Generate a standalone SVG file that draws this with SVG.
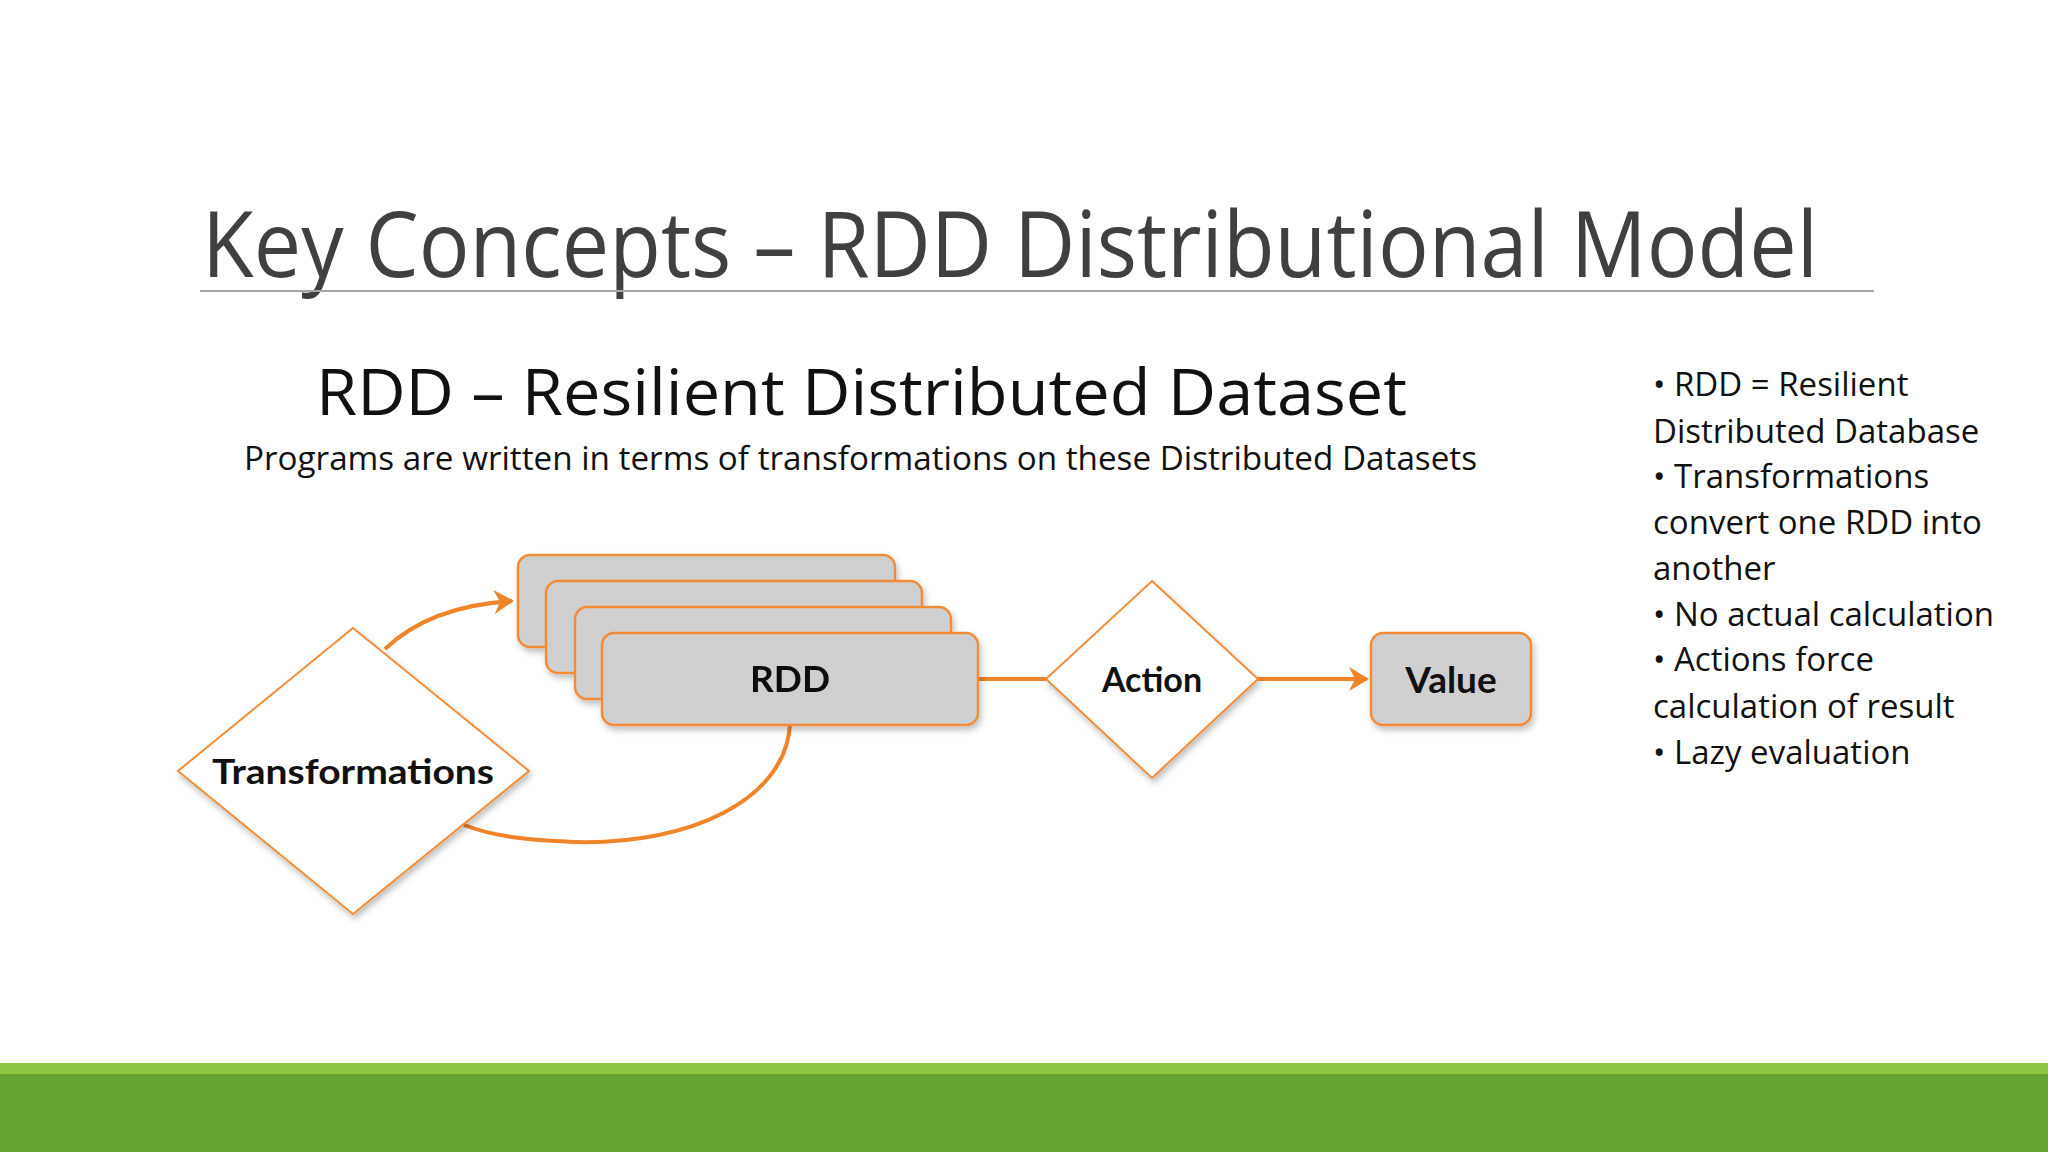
<svg xmlns="http://www.w3.org/2000/svg" width="2048" height="1152" viewBox="0 0 2048 1152">
<defs>
<style>
.t{font-family:"Open Sans","Noto Sans",sans-serif;fill:#404040}
.b{font-family:"Open Sans","Noto Sans",sans-serif;fill:#111;font-size:33px}
.n{font-family:Lato,"Noto Sans",sans-serif;font-weight:bold;fill:#111;text-anchor:middle}
.box{fill:#cfcfcf;stroke:#f28c38;stroke-width:2.5}
.dia{fill:#fff;stroke:#f28c38;stroke-width:2}
.c{fill:none;stroke:#f08428;stroke-width:4}
</style>
<marker id="ah" markerWidth="6" markerHeight="6" refX="4.5" refY="3" orient="auto" markerUnits="strokeWidth"><path d="M0,0 L5,3 L0,6 L1.5,3 Z" fill="#f08428"/></marker>
<filter id="sh" x="-10%" y="-10%" width="130%" height="140%"><feDropShadow dx="2" dy="4" stdDeviation="3" flood-color="#000" flood-opacity="0.25"/></filter>
</defs>
<rect width="2048" height="1152" fill="#fff"/>
<text class="t" x="202" y="277" font-size="92" textLength="1616" lengthAdjust="spacingAndGlyphs">Key Concepts – RDD Distributional Model</text>
<line x1="200" y1="291" x2="1874" y2="291" stroke="#a6a6a6" stroke-width="2"/>
<text class="t" x="316" y="415" font-size="64" style="fill:#111" textLength="1091" lengthAdjust="spacingAndGlyphs">RDD – Resilient Distributed Dataset</text>
<text class="t" x="244" y="470" font-size="32" style="fill:#111" textLength="1233" lengthAdjust="spacingAndGlyphs">Programs are written in terms of transformations on these Distributed Datasets</text>
<g id="bullets">
<text class="b" x="1653" y="396">• RDD = Resilient</text>
<text class="b" x="1653" y="443">Distributed Database</text>
<text class="b" x="1653" y="488">• Transformations</text>
<text class="b" x="1653" y="534">convert one RDD into</text>
<text class="b" x="1653" y="580">another</text>
<text class="b" x="1653" y="626">• No actual calculation</text>
<text class="b" x="1653" y="671">• Actions force</text>
<text class="b" x="1653" y="718">calculation of result</text>
<text class="b" x="1653" y="764">• Lazy evaluation</text>
</g>
<g id="connectors">
<path class="c" d="M385,649 Q430,606 512,601" marker-end="url(#ah)"/>
<path class="c" d="M790,725 C785,800 690,845 575,842 C520,840 490,835 464,825"/>
<line class="c" x1="978" y1="679" x2="1046" y2="679"/>
<line class="c" x1="1258" y1="679" x2="1367" y2="679" marker-end="url(#ah)"/>
</g>
<g id="rdd" filter="url(#sh)">
<rect class="box" x="518" y="555" width="377" height="92" rx="12"/>
<rect class="box" x="546" y="581" width="376" height="92" rx="12"/>
<rect class="box" x="575" y="607" width="376" height="92" rx="12"/>
<rect class="box" x="602" y="633" width="376" height="92" rx="12"/>
<text class="n" x="790" y="692" font-size="37">RDD</text>
</g>
<g id="action">
<polygon class="dia" points="1152,581 1258,679 1152,778 1046,679" filter="url(#sh)"/>
<text class="n" x="1152" y="692" font-size="34">Action</text>
</g>
<g id="value">
<rect class="box" x="1371" y="633" width="160" height="92" rx="12" filter="url(#sh)"/>
<text class="n" x="1451" y="693" font-size="37">Value</text>
</g>
<g id="transformations">
<polygon class="dia" points="353,628 529,771 353,914 178,771" filter="url(#sh)"/>
<text class="n" x="353" y="784" font-size="34" textLength="282" lengthAdjust="spacingAndGlyphs">Transformations</text>
</g>
<rect x="0" y="1063" width="2048" height="11" fill="#8cc63e"/>
<rect x="0" y="1074" width="2048" height="78" fill="#62a332"/>
</svg>
